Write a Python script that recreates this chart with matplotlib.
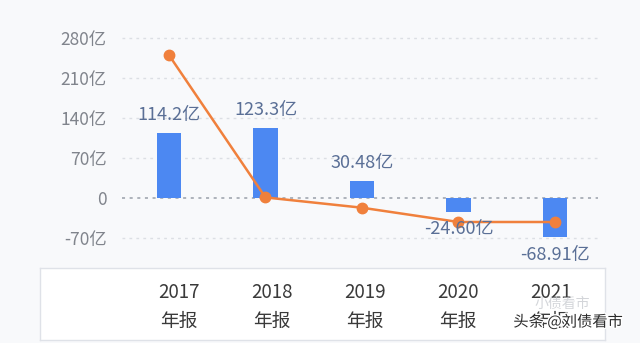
import matplotlib.pyplot as plt
import matplotlib.patheffects as pe

plt.rcParams['font.family'] = ['Noto Sans CJK SC', 'DejaVu Sans']
plt.rcParams['font.weight'] = 'light'

# 数据
years = ["2017", "2018", "2019", "2020", "2021"]
bar_values = [114.2, 123.3, 30.48, -24.60, -68.91]
bar_labels = ["114.2亿", "123.3亿", "30.48亿", "-24.60亿", "-68.91亿"]
line_values = [250, 1, -17, -42, -42]
y_ticks = [-70, 0, 70, 140, 210, 280]
y_tick_labels = ["-70亿", "0", "70亿", "140亿", "210亿", "280亿"]

W, H = 640, 343
fig = plt.figure(figsize=(W / 100, H / 100), dpi=100, facecolor="#f8f9fb")

# 主图区域（像素换算）
ax = fig.add_axes([122 / W, 93 / H, 476 / W, 220 / H])
ax.set_facecolor("none")
ax.set_xlim(-0.487, 4.446)
ax.set_ylim(-91, 294)

x = range(len(years))
ax.bar(x, bar_values, width=0.25, color="#4c88f2", zorder=2)
ax.plot(x, line_values, color="#f0803c", lw=1.8, marker="o", ms=7.5, zorder=3)

for i, (v, lab) in enumerate(zip(bar_values, bar_labels)):
    off = 6 if v >= 0 else -6
    ax.annotate(lab, (i, v), xytext=(0, off), textcoords="offset points",
                ha="center", va="bottom" if v >= 0 else "top",
                fontsize=13, color="#5a6f96", zorder=4)

for t in y_ticks:
    if t == 0:
        ax.axhline(0, color="#9aa0aa", lw=1.1, ls=(0, (2, 3)), zorder=1)
    else:
        ax.axhline(t, color="#dcdfe4", lw=1.0, ls=(0, (2, 3)), zorder=1)

ax.set_yticks(y_ticks)
ax.set_yticklabels(y_tick_labels, fontsize=12.5, color="#80848c")
ax.tick_params(axis="y", length=0, pad=11)
ax.set_xticks([])
for s in ax.spines.values():
    s.set_visible(False)

# 底部年份表格
axb = fig.add_axes([40 / W, 3 / H, 565 / W, 72 / H])
axb.set_facecolor("white")
axb.set_xlim(-1.495, 4.58)
axb.set_ylim(0, 1)
axb.set_xticks([])
axb.set_yticks([])
for s in axb.spines.values():
    s.set_color("#dfe2e8")
    s.set_linewidth(1.0)
for i, yr in enumerate(years):
    axb.text(i, 0.66, yr, ha="center", va="center", fontsize=13.5, color="#3a3a3a")
    axb.text(i, 0.26, "年报", ha="center", va="center", fontsize=13.5, color="#3a3a3a")

# 水印
fig.text(562 / W, 1 - 304 / H, "小债看市", ha="center", va="center",
         fontsize=10, color="#c8cbd0", alpha=0.8)
fig.text(568 / W, 1 - 322 / H, "头条 @刘债看市", ha="center", va="center",
         fontsize=11, color="#2a2a2a", fontweight="normal",
         path_effects=[pe.withStroke(linewidth=2, foreground="white")])

fig.savefig("out.png", dpi=100, facecolor=fig.get_facecolor())
